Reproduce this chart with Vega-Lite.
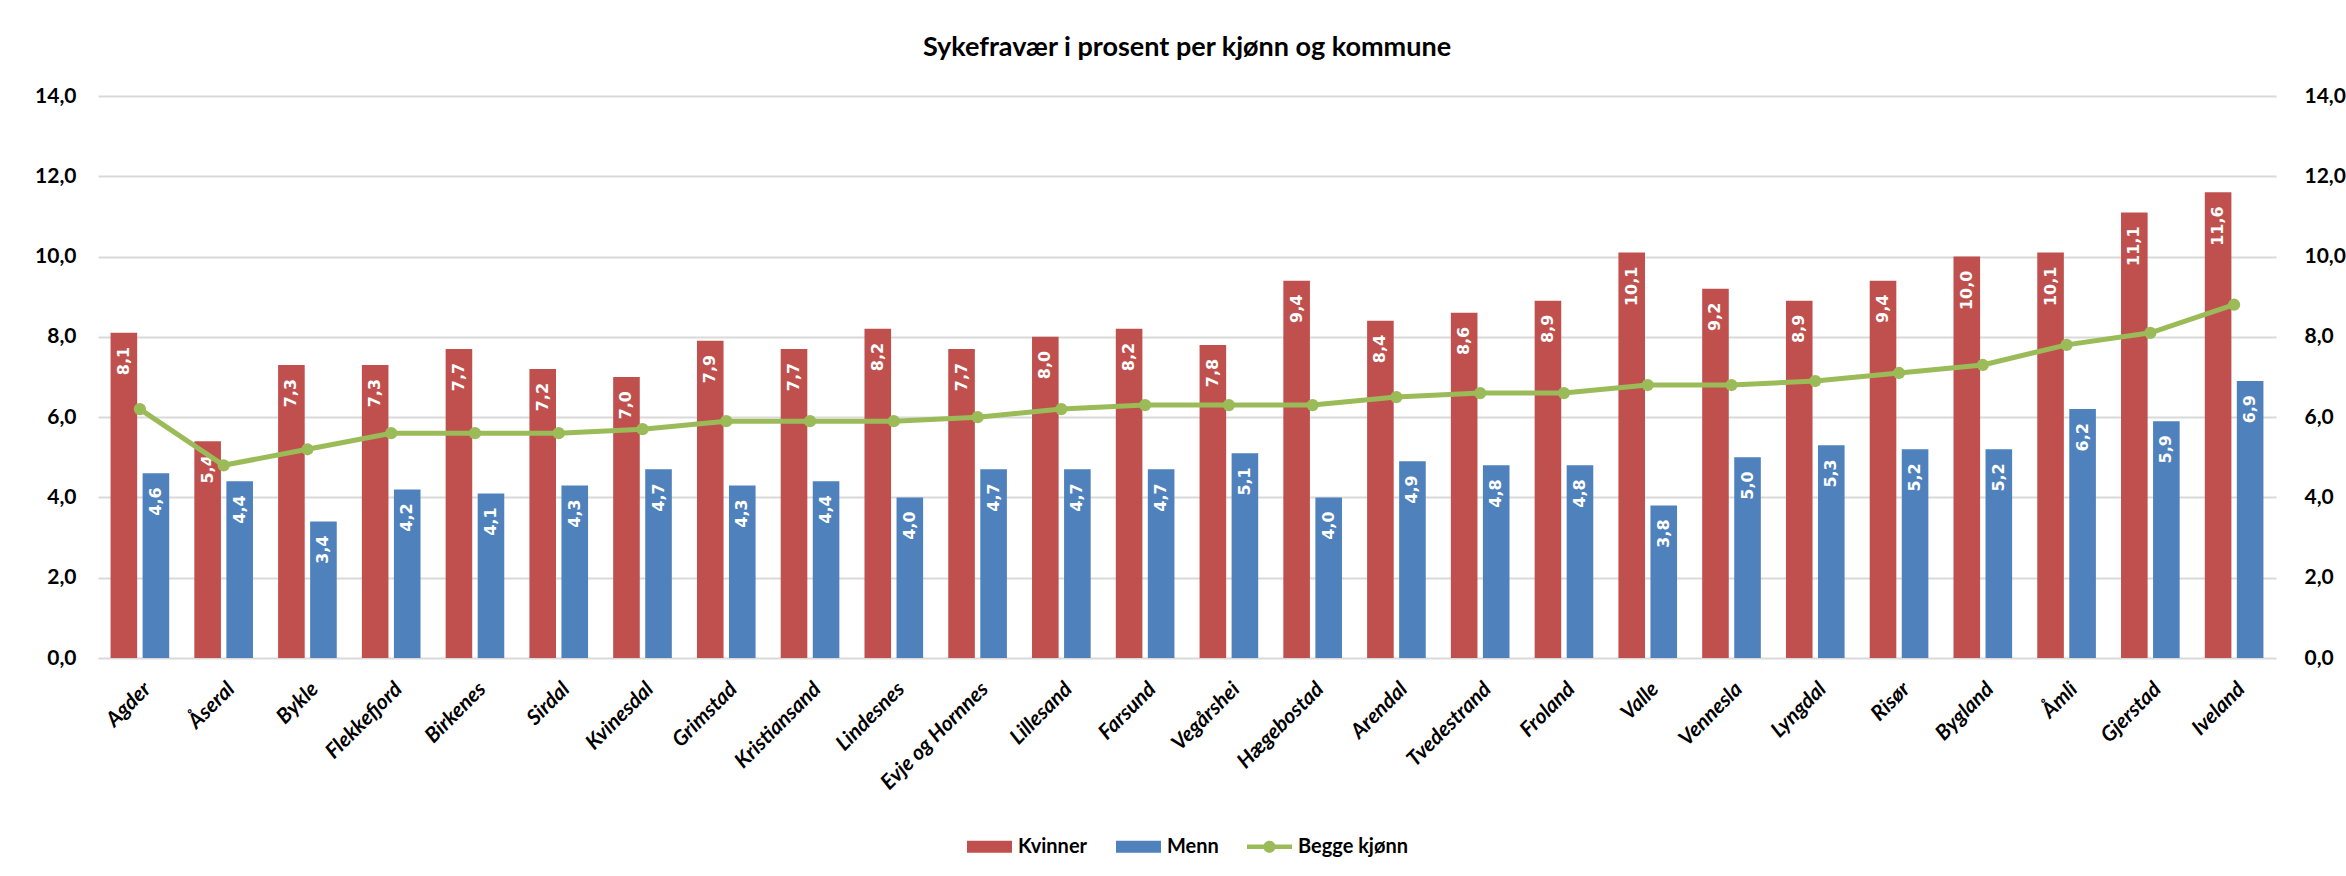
{
  "$schema": "https://vega.github.io/schema/vega-lite/v6.json",
  "autosize": {"type": "none"},
  "width": 2178,
  "height": 562,
  "padding": {"left": 98, "top": 96, "right": 70, "bottom": 218},
  "background": "white",
  "title": {
    "text": "Sykefravær i prosent per kjønn og kommune",
    "font": "Lato",
    "fontSize": 27,
    "fontWeight": "bold",
    "color": "#000000",
    "anchor": "middle",
    "offset": 23
  },
  "config": {
    "locale": {"number": {"decimal": ",", "thousands": " ", "grouping": [3], "currency": ["", " kr"]}},
    "view": {"stroke": null},
    "legend": {"layout": {"bottom": {"anchor": "middle"}}}
  },
  "data": {
    "values": [
      {"kommune": "Agder", "serie": "Kvinner", "verdi": 8.1},
      {"kommune": "Agder", "serie": "Menn", "verdi": 4.6},
      {"kommune": "Agder", "serie": "Begge kjønn", "verdi": 6.2},
      {"kommune": "Åseral", "serie": "Kvinner", "verdi": 5.4},
      {"kommune": "Åseral", "serie": "Menn", "verdi": 4.4},
      {"kommune": "Åseral", "serie": "Begge kjønn", "verdi": 4.8},
      {"kommune": "Bykle", "serie": "Kvinner", "verdi": 7.3},
      {"kommune": "Bykle", "serie": "Menn", "verdi": 3.4},
      {"kommune": "Bykle", "serie": "Begge kjønn", "verdi": 5.2},
      {"kommune": "Flekkefjord", "serie": "Kvinner", "verdi": 7.3},
      {"kommune": "Flekkefjord", "serie": "Menn", "verdi": 4.2},
      {"kommune": "Flekkefjord", "serie": "Begge kjønn", "verdi": 5.6},
      {"kommune": "Birkenes", "serie": "Kvinner", "verdi": 7.7},
      {"kommune": "Birkenes", "serie": "Menn", "verdi": 4.1},
      {"kommune": "Birkenes", "serie": "Begge kjønn", "verdi": 5.6},
      {"kommune": "Sirdal", "serie": "Kvinner", "verdi": 7.2},
      {"kommune": "Sirdal", "serie": "Menn", "verdi": 4.3},
      {"kommune": "Sirdal", "serie": "Begge kjønn", "verdi": 5.6},
      {"kommune": "Kvinesdal", "serie": "Kvinner", "verdi": 7.0},
      {"kommune": "Kvinesdal", "serie": "Menn", "verdi": 4.7},
      {"kommune": "Kvinesdal", "serie": "Begge kjønn", "verdi": 5.7},
      {"kommune": "Grimstad", "serie": "Kvinner", "verdi": 7.9},
      {"kommune": "Grimstad", "serie": "Menn", "verdi": 4.3},
      {"kommune": "Grimstad", "serie": "Begge kjønn", "verdi": 5.9},
      {"kommune": "Kristiansand", "serie": "Kvinner", "verdi": 7.7},
      {"kommune": "Kristiansand", "serie": "Menn", "verdi": 4.4},
      {"kommune": "Kristiansand", "serie": "Begge kjønn", "verdi": 5.9},
      {"kommune": "Lindesnes", "serie": "Kvinner", "verdi": 8.2},
      {"kommune": "Lindesnes", "serie": "Menn", "verdi": 4.0},
      {"kommune": "Lindesnes", "serie": "Begge kjønn", "verdi": 5.9},
      {"kommune": "Evje og Hornnes", "serie": "Kvinner", "verdi": 7.7},
      {"kommune": "Evje og Hornnes", "serie": "Menn", "verdi": 4.7},
      {"kommune": "Evje og Hornnes", "serie": "Begge kjønn", "verdi": 6.0},
      {"kommune": "Lillesand", "serie": "Kvinner", "verdi": 8.0},
      {"kommune": "Lillesand", "serie": "Menn", "verdi": 4.7},
      {"kommune": "Lillesand", "serie": "Begge kjønn", "verdi": 6.2},
      {"kommune": "Farsund", "serie": "Kvinner", "verdi": 8.2},
      {"kommune": "Farsund", "serie": "Menn", "verdi": 4.7},
      {"kommune": "Farsund", "serie": "Begge kjønn", "verdi": 6.3},
      {"kommune": "Vegårshei", "serie": "Kvinner", "verdi": 7.8},
      {"kommune": "Vegårshei", "serie": "Menn", "verdi": 5.1},
      {"kommune": "Vegårshei", "serie": "Begge kjønn", "verdi": 6.3},
      {"kommune": "Hægebostad", "serie": "Kvinner", "verdi": 9.4},
      {"kommune": "Hægebostad", "serie": "Menn", "verdi": 4.0},
      {"kommune": "Hægebostad", "serie": "Begge kjønn", "verdi": 6.3},
      {"kommune": "Arendal", "serie": "Kvinner", "verdi": 8.4},
      {"kommune": "Arendal", "serie": "Menn", "verdi": 4.9},
      {"kommune": "Arendal", "serie": "Begge kjønn", "verdi": 6.5},
      {"kommune": "Tvedestrand", "serie": "Kvinner", "verdi": 8.6},
      {"kommune": "Tvedestrand", "serie": "Menn", "verdi": 4.8},
      {"kommune": "Tvedestrand", "serie": "Begge kjønn", "verdi": 6.6},
      {"kommune": "Froland", "serie": "Kvinner", "verdi": 8.9},
      {"kommune": "Froland", "serie": "Menn", "verdi": 4.8},
      {"kommune": "Froland", "serie": "Begge kjønn", "verdi": 6.6},
      {"kommune": "Valle", "serie": "Kvinner", "verdi": 10.1},
      {"kommune": "Valle", "serie": "Menn", "verdi": 3.8},
      {"kommune": "Valle", "serie": "Begge kjønn", "verdi": 6.8},
      {"kommune": "Vennesla", "serie": "Kvinner", "verdi": 9.2},
      {"kommune": "Vennesla", "serie": "Menn", "verdi": 5.0},
      {"kommune": "Vennesla", "serie": "Begge kjønn", "verdi": 6.8},
      {"kommune": "Lyngdal", "serie": "Kvinner", "verdi": 8.9},
      {"kommune": "Lyngdal", "serie": "Menn", "verdi": 5.3},
      {"kommune": "Lyngdal", "serie": "Begge kjønn", "verdi": 6.9},
      {"kommune": "Risør", "serie": "Kvinner", "verdi": 9.4},
      {"kommune": "Risør", "serie": "Menn", "verdi": 5.2},
      {"kommune": "Risør", "serie": "Begge kjønn", "verdi": 7.1},
      {"kommune": "Bygland", "serie": "Kvinner", "verdi": 10.0},
      {"kommune": "Bygland", "serie": "Menn", "verdi": 5.2},
      {"kommune": "Bygland", "serie": "Begge kjønn", "verdi": 7.3},
      {"kommune": "Åmli", "serie": "Kvinner", "verdi": 10.1},
      {"kommune": "Åmli", "serie": "Menn", "verdi": 6.2},
      {"kommune": "Åmli", "serie": "Begge kjønn", "verdi": 7.8},
      {"kommune": "Gjerstad", "serie": "Kvinner", "verdi": 11.1},
      {"kommune": "Gjerstad", "serie": "Menn", "verdi": 5.9},
      {"kommune": "Gjerstad", "serie": "Begge kjønn", "verdi": 8.1},
      {"kommune": "Iveland", "serie": "Kvinner", "verdi": 11.6},
      {"kommune": "Iveland", "serie": "Menn", "verdi": 6.9},
      {"kommune": "Iveland", "serie": "Begge kjønn", "verdi": 8.8}
    ]
  },
  "resolve": {"axis": {"y": "independent"}},
  "layer": [
    {
      "transform": [{"filter": "datum.serie !== 'Begge kjønn'"}],
      "mark": {"type": "bar"},
      "encoding": {
        "x": {
          "field": "kommune", "type": "nominal", "sort": null,
          "scale": {"paddingInner": 0.3, "paddingOuter": 0.15},
          "axis": {
            "title": null, "labelAngle": -45, "labelFont": "Lato", "labelFontSize": 21,
            "labelFontWeight": "bold", "labelFontStyle": "italic", "labelColor": "#000000",
            "ticks": false, "domain": false, "labelPadding": 20
          }
        },
        "xOffset": {"field": "serie", "type": "nominal", "sort": ["Kvinner", "Menn"], "scale": {"paddingInner": 0.17}},
        "y": {
          "field": "verdi", "type": "quantitative",
          "scale": {"domain": [0, 14]},
          "axis": {
            "title": null, "orient": "left", "values": [0, 2, 4, 6, 8, 10, 12, 14], "format": ".1f",
            "labelFont": "Lato", "labelFontSize": 21, "labelFontWeight": "bold", "labelColor": "#000000",
            "domain": false, "ticks": false, "labelPadding": 22,
            "grid": true, "gridColor": "#D9D9D9", "gridWidth": 2
          }
        },
        "color": {
          "field": "serie", "type": "nominal",
          "scale": {"domain": ["Kvinner", "Menn", "Begge kjønn"], "range": ["#C0504D", "#4F81BD", "#9BBB59"]},
          "legend": {
            "title": null, "orient": "bottom", "direction": "horizontal", "offset": 30,
            "labelFont": "Lato", "labelFontSize": 20, "labelFontWeight": "bold", "labelColor": "#000000",
            "labelOffset": 6, "columnPadding": 28, "symbolSize": 2025,
            "encode": {
              "symbols": {
                "update": {
                  "shape": {"signal": "datum.value === 'Begge kjønn' ? 'M-1,-0.1H1V0.1H-1Z M-0.27,0A0.27,0.27 0 1,1 0.27,0A0.27,0.27 0 1,1 -0.27,0Z' : 'M-1,-0.27H1V0.27H-1Z'"},
                  "fill": {"signal": "datum.value === 'Kvinner' ? '#C0504D' : datum.value === 'Menn' ? '#4F81BD' : '#9BBB59'"},
                  "stroke": {"value": "transparent"},
                  "strokeWidth": {"value": 0},
                  "size": {"value": 2025},
                  "opacity": {"value": 1}
                }
              }
            }
          }
        }
      }
    },
    {
      "transform": [{"filter": "datum.serie !== 'Begge kjønn'"}],
      "mark": {"type": "text", "angle": 270, "align": "right", "baseline": "middle", "dx": -14,
               "font": "DejaVu Sans", "fontWeight": "bold", "fontSize": 16, "color": "#FFFFFF"},
      "encoding": {
        "x": {"field": "kommune", "type": "nominal", "sort": null},
        "xOffset": {"field": "serie", "type": "nominal", "sort": ["Kvinner", "Menn"]},
        "y": {"field": "verdi", "type": "quantitative", "axis": null},
        "text": {"field": "verdi", "type": "quantitative", "format": ".1f"}
      }
    },
    {
      "transform": [{"filter": "datum.serie === 'Begge kjønn'"}],
      "mark": {"type": "line", "strokeWidth": 5, "point": {"filled": true, "size": 150}},
      "encoding": {
        "x": {"field": "kommune", "type": "nominal", "sort": null},
        "y": {
          "field": "verdi", "type": "quantitative",
          "axis": {
            "title": null, "orient": "right", "values": [0, 2, 4, 6, 8, 10, 12, 14], "format": ".1f",
            "labelFont": "Lato", "labelFontSize": 21, "labelFontWeight": "bold", "labelColor": "#000000",
            "domain": false, "ticks": false, "labelPadding": 28, "grid": false
          }
        },
        "color": {"field": "serie", "type": "nominal"}
      }
    }
  ]
}
